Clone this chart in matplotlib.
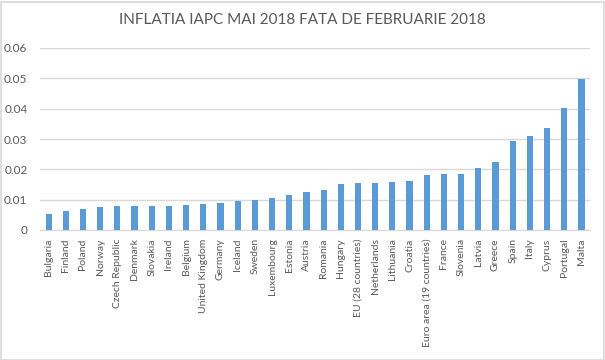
import matplotlib
matplotlib.use("Agg")
import matplotlib.pyplot as plt
from matplotlib.patches import Rectangle
import numpy as np

countries = ["Bulgaria", "Finland", "Poland", "Norway", "Czech Republic", "Denmark",
             "Slovakia", "Ireland", "Belgium", "United Kingdom", "Germany", "Iceland",
             "Sweden", "Luxembourg", "Estonia", "Austria", "Romania", "Hungary",
             "EU (28 countries)", "Netherlands", "Lithuania", "Croatia",
             "Euro area (19 countries)", "France", "Slovenia", "Latvia", "Greece",
             "Spain", "Italy", "Cyprus", "Portugal", "Malta"]
inflation = [0.0054, 0.0063, 0.0069, 0.0076, 0.0078, 0.0080, 0.0080, 0.0080,
             0.0083, 0.0087, 0.0089, 0.0097, 0.0099, 0.0105, 0.0117, 0.0126,
             0.0132, 0.0152, 0.0155, 0.0155, 0.0159, 0.0163, 0.0182, 0.0184,
             0.0186, 0.0205, 0.0225, 0.0292, 0.0311, 0.0337, 0.0402, 0.0499]
yticks = [0, 0.01, 0.02, 0.03, 0.04, 0.05, 0.06]
ytick_labels = ["0", "0.01", "0.02", "0.03", "0.04", "0.05", "0.06"]

plt.rcParams['font.family'] = ['Lato', 'DejaVu Sans']
txt = '#595959'
grid = '#d9d9d9'

W, H = 605, 360
fig = plt.figure(figsize=(W / 100, H / 100), dpi=100)
# left, bottom, width, height in pixels -> fractions
ax = fig.add_axes([40 / W, 1 - 230 / H, 550 / W, 182 / H])

x = np.arange(len(countries))
ax.bar(x, inflation, width=0.36, color='#5b9bd5', zorder=3)

ax.set_xlim(-0.5, len(countries) - 0.5)
ax.set_ylim(0, 0.06)
ax.set_yticks(yticks)
ax.set_yticklabels(ytick_labels)
ax.set_xticks(x)
ax.set_xticklabels(countries, rotation=90)

ax.yaxis.grid(True, color=grid, linewidth=1, zorder=0)
for s in ['top', 'right', 'left']:
    ax.spines[s].set_visible(False)
ax.spines['bottom'].set_color(grid)
ax.tick_params(axis='both', length=0, colors=txt)
ax.tick_params(axis='y', pad=9, labelsize=8.5)
ax.tick_params(axis='x', pad=6, labelsize=7.5)

fig.text(0.5, 1 - 20 / H, "INFLATIA IAPC MAI 2018 FATA DE FEBRUARIE 2018",
         ha='center', va='center', fontsize=11, color=txt)

# outer frame of the chart area
fig.patches.append(Rectangle((0.5 / W, 0.5 / H), 1 - 2 / W, 1 - 2 / H,
                             transform=fig.transFigure, fill=False,
                             edgecolor=grid, linewidth=1.2))

fig.savefig("out.png", dpi=100)
plt.close(fig)
